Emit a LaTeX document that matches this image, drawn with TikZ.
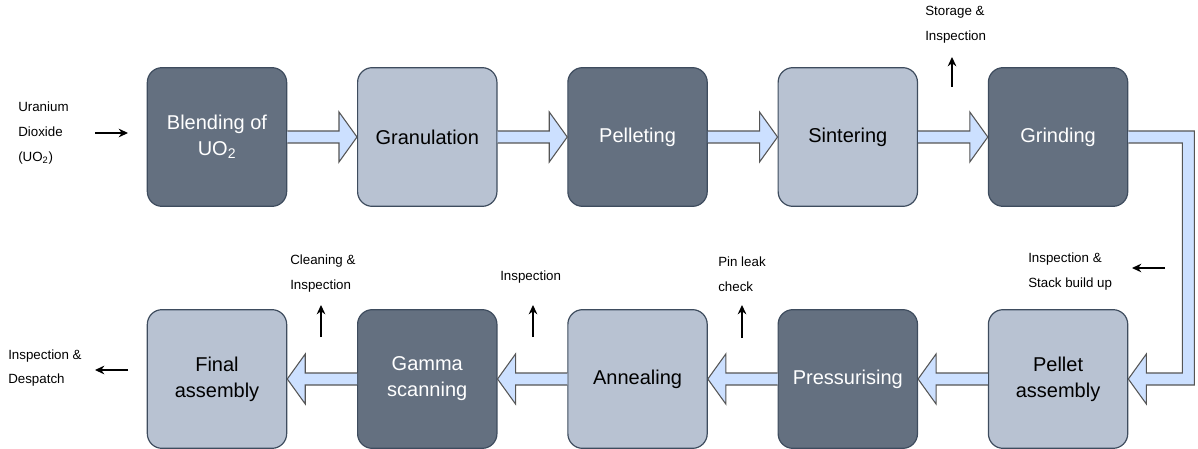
\documentclass[tikz,border=0pt]{standalone}
\usepackage{fontspec}
\setmainfont{Liberation Sans}
\usetikzlibrary{positioning}
\usetikzlibrary{calc}
\usetikzlibrary{arrows.meta}
\definecolor{darkslate}{HTML}{647080}
\definecolor{lightslate}{HTML}{B8C2D2}
\definecolor{slateline}{HTML}{3E4C5E}
\definecolor{flowblue}{HTML}{CCE0FF}
\definecolor{flowline}{HTML}{555555}
\tikzstyle{stage} = [rounded corners=11pt,minimum width=104.5pt,minimum height=104pt,draw=slateline,line width=0.9pt,align=center,font=\fontsize{15}{19.5}\selectfont]
\tikzstyle{darkstage} = [stage,fill=darkslate,text=white]
\tikzstyle{lightstage} = [stage,fill=lightslate,text=black]
\tikzstyle{flow} = [fill=flowblue,draw=flowline,line width=0.8pt,line join=miter]
\tikzstyle{note} = [align=left,anchor=west,inner sep=0pt,font=\fontsize{10}{18.5}\selectfont]
\tikzstyle{arrow} = [line width=0.9pt,-{Stealth[length=7pt,width=6.5pt]}]
% block arrow between two stages, to the right / to the left
\newcommand{\flowright}[2]{\draw[flow] ($(#1.east)+(0,-6)$) -- ($(#2.west)+(-18,-6)$) -- ($(#2.west)+(-18,-25)$) -- (#2.west) -- ($(#2.west)+(-18,25)$) -- ($(#2.west)+(-18,6)$) -- ($(#1.east)+(0,6)$);}
\newcommand{\flowleft}[2]{\draw[flow] ($(#1.west)+(0,-6)$) -- ($(#2.east)+(18,-6)$) -- ($(#2.east)+(18,-25)$) -- (#2.east) -- ($(#2.east)+(18,25)$) -- ($(#2.east)+(18,6)$) -- ($(#1.west)+(0,6)$);}
\begin{document}
\begin{tikzpicture}[x=0.75pt,y=-0.75pt,node distance=52.3pt]
\useasboundingbox (0,0) rectangle (1198,449);

% top row
\node[darkstage] (blend) at (217,137) {Blending of\\UO\textsubscript{2}};
\node[lightstage,right=of blend] (gran) {Granulation};
\node[darkstage,right=of gran] (pellet) {Pelleting};
\node[lightstage,right=of pellet] (sinter) {Sintering};
\node[darkstage,right=of sinter] (grind) {Grinding};

% bottom row
\node[lightstage] (final) at (217,379) {Final\\assembly};
\node[darkstage,right=of final] (gamma) {Gamma\\scanning};
\node[lightstage,right=of gamma] (anneal) {Annealing};
\node[darkstage,right=of anneal] (press) {Pressurising};
\node[lightstage,right=of press] (passy) {Pellet\\assembly};

\flowright{blend}{gran}
\flowright{gran}{pellet}
\flowright{pellet}{sinter}
\flowright{sinter}{grind}
\flowleft{passy}{press}
\flowleft{press}{anneal}
\flowleft{anneal}{gamma}
\flowleft{gamma}{final}

% bend from grinding down to pellet assembly
\coordinate (bendout) at ($(grind.east)+(66,0)$);
\coordinate (bendin) at ($(grind.east)+(54,0)$);
\coordinate (bendlow) at ($(passy.east)+(0,6)$);
\coordinate (bendhigh) at ($(passy.east)+(0,-6)$);
\draw[flow] ($(grind.east)+(0,-6)$) -- ($(bendout)+(0,-6)$) -- (bendout |- bendlow)
  -- ($(passy.east)+(18,6)$) -- ($(passy.east)+(18,25)$) -- (passy.east) -- ($(passy.east)+(18,-25)$)
  -- ($(passy.east)+(18,-6)$) -- (bendin |- bendhigh) -- ($(bendin)+(0,6)$) -- ($(grind.east)+(0,6)$);

% side notes
\node[note] (uranium) at (18,133) {Uranium\\Dioxide\\(UO\textsubscript{2})};
\node[note] (storage) at (925,24.5) {Storage \&\\Inspection};
\node[note] (stack) at (1028,271.5) {Inspection \&\\Stack build up};
\node[note] (pinleak) at (718,274) {Pin leak\\check};
\node[note] (inspect) at (500,277) {Inspection};
\node[note] (clean) at (290,273.5) {Cleaning \&\\Inspection};
\node[note] (despatch) at (8,368) {Inspection \&\\Despatch};

\coordinate (uraniumin) at (95,133);
\coordinate (uraniumto) at (128,133);
\coordinate (storagefrom) at (952,87);
\coordinate (storageto) at (952,57);
\coordinate (stackfrom) at (1165,268);
\coordinate (stackto) at (1132,268);
\coordinate (pinfrom) at (742,338);
\coordinate (pinto) at (742,305);
\coordinate (inspfrom) at (533,337);
\coordinate (inspto) at (533,305);
\coordinate (cleanfrom) at (321,337);
\coordinate (cleanto) at (321,305);
\coordinate (despfrom) at (128,370);
\coordinate (despto) at (95,370);

\draw[arrow] (uraniumin) -- (uraniumto);
\draw[arrow] (storagefrom) -- (storageto);
\draw[arrow] (stackfrom) -- (stackto);
\draw[arrow] (pinfrom) -- (pinto);
\draw[arrow] (inspfrom) -- (inspto);
\draw[arrow] (cleanfrom) -- (cleanto);
\draw[arrow] (despfrom) -- (despto);
\end{tikzpicture}
\end{document}
